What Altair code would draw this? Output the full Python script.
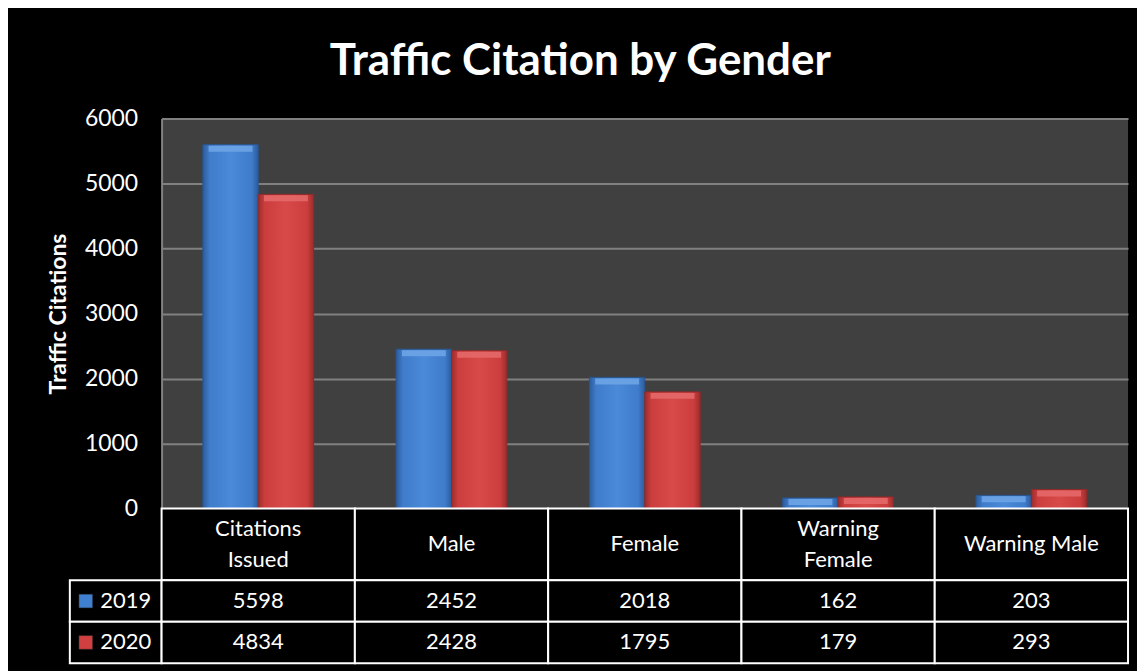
import altair as alt
import pandas as pd

categories = ["Citations Issued", "Male", "Female", "Warning Female", "Warning Male"]
header_labels = ["Citations\nIssued", "Male", "Female", "Warning\nFemale", "Warning Male"]
years = ["2019", "2020"]
values_2019 = [5598, 2452, 2018, 162, 203]
values_2020 = [4834, 2428, 1795, 179, 293]
y_ticks = [0, 1000, 2000, 3000, 4000, 5000, 6000]

FONT = "Lato"
BLUE = "#4080d0"
RED = "#d04040"

rows = []
for c, a, b in zip(categories, values_2019, values_2020):
    rows.append({"cat": c, "year": "2019", "value": a})
    rows.append({"cat": c, "year": "2020", "value": b})
df = pd.DataFrame(rows)
hdr = pd.DataFrame({"cat": categories, "label": header_labels})
leg = pd.DataFrame({"col": ["legend"] * len(years), "year": years})

def grad(dark, mid, light):
    return alt.LinearGradient(
        gradient="linear", x1=0, x2=1, y1=0, y2=0,
        stops=[alt.GradientStop(offset=0, color=dark),
               alt.GradientStop(offset=0.12, color=mid),
               alt.GradientStop(offset=0.5, color=light),
               alt.GradientStop(offset=0.88, color=mid),
               alt.GradientStop(offset=1, color=dark)])

xs = alt.Scale(domain=categories, paddingInner=0.427, paddingOuter=0.2135)
xo = alt.Scale(domain=years, paddingInner=0, paddingOuter=0)
ys = alt.Scale(domain=[0, 6000], nice=False)

base = alt.Chart(df).encode(
    x=alt.X("cat:N", scale=xs, axis=None, sort=categories),
    xOffset=alt.XOffset("year:N", scale=xo),
    y=alt.Y("value:Q", scale=ys, title="Traffic Citations",
            axis=alt.Axis(values=y_ticks, format="d", grid=True, gridColor="#808080", gridWidth=2,
                          domainColor="#808080", domainWidth=2, ticks=False,
                          labelColor="white", labelFontSize=23, labelFont=FONT,
                          labelPadding=24, titleColor="white", titleFont=FONT,
                          titleFontSize=23, titleFontWeight="bold", titlePadding=14)),
)
bars_b = base.transform_filter("datum.year == '2019'").mark_bar(
    color=grad("#2c5c9c", "#3f7ccb", "#4a8ad8"), stroke="#2a5590", strokeWidth=1)
bars_r = base.transform_filter("datum.year == '2020'").mark_bar(
    color=grad("#9c2c2c", "#cc3e3e", "#d84a4a"), stroke="#902a2a", strokeWidth=1)
top_b = base.transform_filter("datum.year == '2019'").mark_tick(
    color="#6da4e6", thickness=6, size=44, opacity=0.9).encode(yOffset=alt.value(4))
top_r = base.transform_filter("datum.year == '2020'").mark_tick(
    color="#e46868", thickness=6, size=44, opacity=0.9).encode(yOffset=alt.value(4))
bars = alt.layer(bars_b, bars_r, top_b, top_r).properties(
    width=969, height=391, view=alt.ViewBackground(fill="#404040", stroke=None))

def spacer(h):
    return alt.Chart(hdr).mark_point(opacity=0).encode(
        x=alt.value(0), y=alt.value(0)).properties(
        width=92, height=h, view=alt.ViewBackground(fill=None, stroke=None))

tx = alt.Scale(domain=categories, paddingInner=0, paddingOuter=0)
hx = alt.X("cat:N", scale=tx, axis=None, sort=categories)
header = alt.layer(
    alt.Chart(hdr).mark_rect(fill="black", stroke="white", strokeWidth=2).encode(x=hx),
    alt.Chart(hdr).transform_filter("indexof(datum.label, '\\n') < 0").mark_text(
        color="white", fontSize=22, font=FONT, baseline="middle").encode(x=hx, text="label:N"),
    alt.Chart(hdr).transform_filter("indexof(datum.label, '\\n') >= 0").mark_text(
        color="white", fontSize=22, font=FONT, lineBreak="\n", lineHeight=31,
        baseline="middle", dy=-15.5).encode(x=hx, text="label:N"),
).properties(width=969, height=72, view=alt.ViewBackground(fill=None, stroke=None))

vy = alt.Y("year:N", axis=None, scale=alt.Scale(domain=years, paddingInner=0, paddingOuter=0))
vals = alt.layer(
    alt.Chart(df).mark_rect(fill="black", stroke="white", strokeWidth=2).encode(x=hx, y=vy),
    alt.Chart(df).mark_text(color="white", fontSize=22, font=FONT, baseline="middle").encode(
        x=hx, y=vy, text="value:Q"),
).properties(width=969, height=83, view=alt.ViewBackground(fill=None, stroke=None))

lx = alt.X("col:N", axis=None)
legend = alt.layer(
    alt.Chart(leg).mark_rect(fill="black", stroke="white", strokeWidth=2).encode(y=vy),
    alt.Chart(leg).mark_square(size=190, opacity=1, stroke="#222222", strokeWidth=0.5).encode(
        x=lx, y=vy, xOffset=alt.value(-30),
        color=alt.Color("year:N", scale=alt.Scale(domain=years, range=[BLUE, RED]), legend=None)),
    alt.Chart(leg).mark_text(color="white", fontSize=22, font=FONT, dx=10, baseline="middle").encode(
        x=lx, y=vy, text="year:N"),
).properties(width=92, height=83, view=alt.ViewBackground(fill=None, stroke=None))

chart = alt.concat(
    spacer(391), bars, spacer(72), header, legend, vals,
    columns=2, spacing=0, bounds="flush",
    title=alt.TitleParams("Traffic Citation by Gender", fontSize=44, font=FONT,
                          fontWeight="bold", color="white", anchor="middle",
                          dx=-8, offset=24),
).resolve_scale(x="independent", y="independent", color="independent").properties(
    background="black", padding={"left": 39, "top": 31, "right": 8, "bottom": 8}
).configure_view(stroke=None)

chart.save("out.html", embed_options={"renderer": "svg", "actions": False})
